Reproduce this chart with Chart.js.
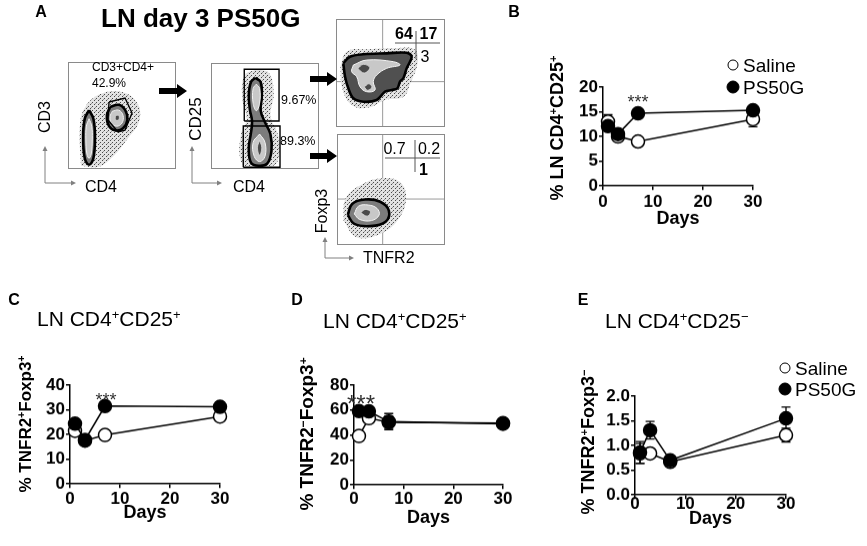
<!DOCTYPE html>
<html>
<head>
<meta charset="utf-8">
<title>LN day 3 PS50G</title>
<script src="https://cdn.jsdelivr.net/npm/chart.js@4.4.1/dist/chart.umd.min.js"></script>
<style>
  body { margin: 0; background: #fff; }
  #fig { position: relative; width: 867px; height: 546px; overflow: hidden; background: #fff; }
  canvas { position: absolute; }
  svg { position: absolute; left: 0; top: 0; }
  .t { position: absolute; white-space: nowrap; line-height: 1; color: #000;
       font-family: "Liberation Sans", Arial, sans-serif; }
  .c { transform: translate(-50%, -50%); }
  .l { transform: translateY(-50%); }
  .r { transform: translate(-50%, -50%) rotate(-90deg); }
  .b { font-weight: bold; }
  .sup { font-size: 0.62em; position: relative; top: -0.55em; }
  .dot { position: absolute; border-radius: 50%; box-sizing: border-box; border: 1.5px solid #000; transform: translate(-50%, -50%); }
</style>
</head>
<body>
<div id="fig">
  <!-- panel A: flow plots -->
  <canvas id="flowCd3"></canvas>
  <canvas id="flowCd25"></canvas>
  <canvas id="flowHi"></canvas>
  <canvas id="flowLo"></canvas>
  <!-- panels B-E: time courses -->
  <canvas id="chartB"></canvas>
  <canvas id="chartC"></canvas>
  <canvas id="chartD"></canvas>
  <canvas id="chartE"></canvas>

  <svg width="867" height="546">
    <!-- gating arrows -->
    <g fill="#000">
      <polygon points="159,88 177,88 177,84 187,91 177,98 177,94 159,94"/>
      <polygon points="310,76 327,76 327,72 337,79 327,86 327,82 310,82"/>
      <polygon points="310,153 327,153 327,149 337,156 327,163 327,159 310,159"/>
    </g>
    <!-- axis direction arrows -->
    <g stroke="#808080" stroke-width="1" fill="none">
      <polyline points="45,150 45,183 72,183"/>
      <polyline points="192,150 192,183 218,183"/>
      <polyline points="325,241 325,258 350,258"/>
    </g>
    <g fill="#808080">
      <polygon points="45,146 42.5,151 47.5,151"/>
      <polygon points="76,183 71,180.5 71,185.5"/>
      <polygon points="192,146 189.5,151 194.5,151"/>
      <polygon points="222,183 217,180.5 217,185.5"/>
      <polygon points="325,237 322.5,242 327.5,242"/>
      <polygon points="354,258 349,255.5 349,260.5"/>
    </g>
    <!-- quadrant number dividers -->
    <g stroke="#555" stroke-width="1">
      <line x1="395" y1="43" x2="440" y2="43"/>
      <line x1="416" y1="31" x2="416" y2="59"/>
      <line x1="385" y1="158" x2="440" y2="158"/>
      <line x1="415" y1="140" x2="415" y2="172"/>
    </g>
  </svg>

  <!-- panel A texts -->
  <div class="t c b" style="left:41px;top:12px;font-size:16px">A</div>
  <div class="t l b" style="left:101px;top:18px;font-size:26px">LN day 3 PS50G</div>
  <div class="t l" style="left:92px;top:67px;font-size:12px">CD3+CD4+</div>
  <div class="t l" style="left:92px;top:83px;font-size:12px">42.9%</div>
  <div class="t l" style="left:281px;top:100px;font-size:12.5px">9.67%</div>
  <div class="t l" style="left:280px;top:141px;font-size:12.5px">89.3%</div>
  <div class="t r" style="left:45px;top:117px;font-size:16px">CD3</div>
  <div class="t l" style="left:85px;top:187px;font-size:16px">CD4</div>
  <div class="t r" style="left:195px;top:119px;font-size:17px">CD25</div>
  <div class="t l" style="left:233px;top:187px;font-size:16px">CD4</div>
  <div class="t r" style="left:322px;top:211px;font-size:16px">Foxp3</div>
  <div class="t l" style="left:363px;top:258px;font-size:16px">TNFR2</div>
  <div class="t c b" style="left:404px;top:34px;font-size:16px">64</div>
  <div class="t c b" style="left:428.5px;top:34px;font-size:16px">17</div>
  <div class="t c" style="left:425px;top:57px;font-size:16px">3</div>
  <div class="t c" style="left:394.5px;top:149px;font-size:16px">0.7</div>
  <div class="t c" style="left:429px;top:149px;font-size:16px">0.2</div>
  <div class="t c b" style="left:423.5px;top:170px;font-size:16px">1</div>

  <!-- panel B texts -->
  <div class="t c b" style="left:514px;top:12px;font-size:16px">B</div>
  <div class="t r b" style="left:557px;top:128px;font-size:18px">% LN CD4<span class="sup">+</span>CD25<span class="sup">+</span></div>
  <div class="dot" style="left:733px;top:65px;width:11px;height:11px;background:#fff"></div>
  <div class="t l" style="left:743px;top:65px;font-size:19px">Saline</div>
  <div class="dot" style="left:733px;top:87px;width:13px;height:13px;background:#000"></div>
  <div class="t l" style="left:743px;top:87px;font-size:19px">PS50G</div>
  <div class="t c" style="left:638px;top:102px;font-size:18px;color:#333">***</div>

  <!-- panel C texts -->
  <div class="t c b" style="left:14px;top:300px;font-size:16px">C</div>
  <div class="t l" style="left:37px;top:318px;font-size:21px">LN CD4<span class="sup">+</span>CD25<span class="sup">+</span></div>
  <div class="t r b" style="left:25px;top:424px;font-size:17px">% TNFR2<span class="sup">+</span>Foxp3<span class="sup">+</span></div>
  <div class="t c" style="left:106px;top:400px;font-size:18px;color:#333">***</div>

  <!-- panel D texts -->
  <div class="t c b" style="left:297px;top:300px;font-size:16px">D</div>
  <div class="t l" style="left:323px;top:320px;font-size:21px">LN CD4<span class="sup">+</span>CD25<span class="sup">+</span></div>
  <div class="t r b" style="left:306px;top:434px;font-size:19px">% TNFR2<span class="sup">&minus;</span>Foxp3<span class="sup">+</span></div>
  <div class="t c" style="left:361px;top:404px;font-size:24px;color:#333">***</div>

  <!-- panel E texts -->
  <div class="t c b" style="left:583px;top:300px;font-size:16px">E</div>
  <div class="t l" style="left:605px;top:320px;font-size:21px">LN CD4<span class="sup">+</span>CD25<span class="sup">&minus;</span></div>
  <div class="t r b" style="left:588px;top:442px;font-size:18px">% TNFR2<span class="sup">+</span>Foxp3<span class="sup">&minus;</span></div>
  <div class="dot" style="left:785px;top:368px;width:11px;height:11px;background:#fff"></div>
  <div class="t l" style="left:795px;top:368px;font-size:19px">Saline</div>
  <div class="dot" style="left:785px;top:389px;width:13px;height:13px;background:#000"></div>
  <div class="t l" style="left:795px;top:389px;font-size:19px">PS50G</div>
</div>

<script>
const FONT = '"Liberation Sans", Arial, sans-serif';

// ---- time course data (days after injection) ----
const days = [1, 3, 7, 30];

// B: % CD4+CD25+ in lymph node
const salineCd25 = [13.0, 10.0, 9.0, 13.5];
const salineCd25Err = [1.4, 0.4, 0.3, 1.5];
const ps50gCd25 = [12.1, 10.5, 14.7, 15.3];
const ps50gCd25Err = [0.5, 0.5, 0.4, 0.5];

// C: % TNFR2+Foxp3+ of CD4+CD25+
const salineTnfr2Pos = [21.5, 17.5, 19.8, 27.3];
const salineTnfr2PosErr = [1, 1, 1, 1];
const ps50gTnfr2Pos = [24.4, 17.8, 31.5, 31.2];
const ps50gTnfr2PosErr = [1, 1, 1, 1];

// D: % TNFR2-Foxp3+ of CD4+CD25+
const salineTnfr2Neg = [39.2, 53.5, 50.2, 49.5];
const salineTnfr2NegErr = [2, 2, 5, 1.5];
const ps50gTnfr2Neg = [59.2, 59.0, 50.7, 49.0];
const ps50gTnfr2NegErr = [2, 2, 6.5, 2];

// E: % TNFR2+Foxp3- of CD4+CD25-
const salineFoxp3Neg = [0.84, 0.84, 0.67, 1.21];
const salineFoxp3NegErr = [0.2, 0.05, 0.03, 0.14];
const ps50gFoxp3Neg = [0.86, 1.31, 0.70, 1.55];
const ps50gFoxp3NegErr = [0.22, 0.18, 0.04, 0.23];

// tick values
const dayTicks = [0, 10, 20, 30];
const cd25Ticks = [0, 5, 10, 15, 20];
const tnfr2PosTicks = [0, 10, 20, 30, 40];
const tnfr2NegTicks = [0, 20, 40, 60, 80];
const foxp3NegTicks = [0, 0.5, 1.0, 1.5, 2.0];

// ---- flow plots (0-100 plot units), contours ----
// CD3 vs CD4
const cd3Cloud = [[12,3],[11,40],[16,58],[30,70],[50,72],[64,62],[66,45],[55,28],[42,12],[28,2],[12,3]];
const cd3NegOuter = [[19.5,55],[23.5,47],[25,30],[23.5,10],[19.5,4],[15.5,10],[14,30],[15.5,47],[19.5,55]];
const cd3NegInner = [[19.5,47],[22,40],[22.5,28],[21.5,14],[19.5,10],[17.5,14],[16.5,28],[17,40],[19.5,47]];
const cd3PosOuter = [[39,58],[47,60],[53,55],[55,46],[51,38],[44,36],[38,40],[36,50],[39,58]];
const cd3PosInner = [[41,54],[47,55],[51,50],[50,43],[45,40],[40,43],[39,49],[41,54]];
const cd3PosCore = [[44,50],[47,50],[47,46],[44,46],[44,50]];
const cd3Gate = [[38,62.6],[52.8,66.4],[59.3,52.3],[52.8,36.4],[46.3,34.6],[37,45.8],[38,62.6]];

// CD25 vs CD4 (gated CD3+CD4+)
const cd25Cloud = [[42,94],[54,90],[58,70],[55,50],[62,32],[62,8],[52,1],[34,1],[27,10],[28,34],[33,47],[29,66],[31,88],[42,94]];
const cd25Outer = [[41,86],[46,82],[47,68],[46,55],[50,44],[55,33],[56,17],[52,5],[44,3],[37,6],[35,20],[37,34],[38,45],[36,56],[35,70],[37,82],[41,86]];
const cd25UpperInner = [[42,80],[45,76],[45,62],[42,55],[39,62],[39,76],[42,80]];
const cd25LowerInner = [[45,33],[50,25],[50,12],[45,7],[40,12],[39,25],[45,33]];
const cd25LowerCore = [[45,27],[47,20],[45,13],[43,20],[45,27]];
const cd25HighGate = [[30.8,45.3],[63,45.3],[63,94.1],[30.8,94.1],[30.8,45.3]];
const cd25LowGate = [[29.9,1.6],[63.9,1.6],[63.9,40.6],[29.9,40.6],[29.9,1.6]];

// Foxp3 vs TNFR2 (CD25 high)
const hiCloud = [[4,56],[10,70],[30,72],[55,73],[72,72],[75,60],[68,40],[62,28],[45,25],[30,18],[15,20],[6,35],[4,56]];
const hiOuter = [[6.7,59],[12.8,65.1],[25.1,67.3],[46.5,68.2],[64.8,68.8],[69.4,65.1],[64.8,54.3],[61.8,45.1],[58.7,42],[56.3,35.8],[51.1,34.3],[45,32.7],[37.3,25],[25.1,23.4],[15.9,26.6],[11.3,35.8],[8.3,46.6],[6.7,59]];
const hiMid = [[15.9,57.4],[28.1,62],[52.6,60.5],[58.7,57.4],[46.5,54.3],[37.3,48.1],[34.2,42],[35.8,34.3],[28.1,32.7],[22,37.3],[19,46.6],[14.4,51.2],[15.9,57.4]];
const hiCoreA = [[20,54],[25,58],[31,55],[26,50],[20,54]];
const hiCoreB = [[26,37],[30,40],[33,37],[29,34],[26,37]];
const hiQuad = [42.8, 42];

// Foxp3 vs TNFR2 (CD25 low)
const loCloud = [[6,22],[8,42],[22,54],[40,60],[58,57],[64,42],[56,22],[40,10],[18,7],[6,22]];
const loOuter = [[10,27],[14,37],[26,41],[40,39],[48,31],[45,21],[31,17],[16,19],[10,27]];
const loMid = [[16,28],[20,35],[29,36],[37,33],[39,27],[32,22],[21,23],[16,28]];
const loCore = [[22,29],[26,32],[31,30],[28,26],[22,29]];
const loQuad = [42.3, 41.4];

Chart.defaults.font.family = FONT;

function pts(xs, ys) { return xs.map((x, i) => ({ x: x, y: ys[i] })); }
function poly(arr) { return arr.map(p => ({ x: p[0], y: p[1] })); }

// draw SEM bars under the markers, using the chart's own y scale
const errorBars = {
  id: 'errorBars',
  beforeDatasetsDraw(chart) {
    const ctx = chart.ctx;
    const y = chart.scales.y;
    ctx.save();
    ctx.strokeStyle = '#000';
    ctx.lineWidth = 1.3;
    chart.data.datasets.forEach((ds, i) => {
      if (!ds.errors) return;
      chart.getDatasetMeta(i).data.forEach((pt, j) => {
        const v = ds.data[j].y, e = ds.errors[j];
        const top = y.getPixelForValue(v + e), bot = y.getPixelForValue(v - e);
        ctx.beginPath();
        ctx.moveTo(pt.x, top); ctx.lineTo(pt.x, bot);
        ctx.moveTo(pt.x - 4.5, top); ctx.lineTo(pt.x + 4.5, top);
        ctx.moveTo(pt.x - 4.5, bot); ctx.lineTo(pt.x + 4.5, bot);
        ctx.stroke();
      });
    });
    ctx.restore();
  }
};

// thin grey box round a flow plot
const framePlugin = {
  id: 'frame',
  afterDraw(chart) {
    const a = chart.chartArea, ctx = chart.ctx;
    ctx.save();
    ctx.strokeStyle = '#8a8a8a';
    ctx.lineWidth = 1;
    ctx.strokeRect(a.left + 0.5, a.top + 0.5, a.right - a.left - 1, a.bottom - a.top - 1);
    ctx.restore();
  }
};

function placeCanvas(canvas, left, top, w, h) {
  canvas.style.left = left + 'px';
  canvas.style.top = top + 'px';
  canvas.width = w;
  canvas.height = h;
  canvas.style.width = w + 'px';
  canvas.style.height = h + 'px';
}

// line chart of one time course; box is the plot area in page pixels
function makeTimeChart(id, box, yTicks, decimals, saline, salineErr, ps50g, ps50gErr, xPad, daysGap) {
  const yw = 42, padTop = 12, padRight = 16, padBottom = 4;
  const xh = daysGap + 10.8;
  const canvas = document.getElementById(id);
  const w = yw + box.right - box.left + padRight;
  const h = padTop + box.bottom - box.top + xh + padBottom;
  placeCanvas(canvas, box.left - yw, box.top - padTop, w, h);

  const tickFont = { family: FONT, size: 17, weight: 'bold' };
  const axisGrid = { drawOnChartArea: false, color: '#000', lineWidth: 1.5, tickLength: 4 };
  const axisBorder = { color: '#000', width: 1.5 };

  return new Chart(canvas, {
    type: 'line',
    data: {
      datasets: [
        { label: 'PS50G', data: pts(days, ps50g), errors: ps50gErr, order: 1, clip: false,
          borderColor: '#000', pointBorderColor: '#000', pointBackgroundColor: '#000' },
        { label: 'Saline', data: pts(days, saline), errors: salineErr, order: 2, clip: false,
          borderColor: '#000', pointBorderColor: '#000', pointBackgroundColor: '#fff' }
      ]
    },
    options: {
      responsive: false,
      animation: false,
      events: [],
      layout: { autoPadding: false, padding: { top: padTop, right: padRight, left: 0, bottom: padBottom } },
      elements: {
        line: { borderWidth: 1.5, tension: 0 },
        point: { radius: 6.5, borderWidth: 1.5, hoverRadius: 6.5 }
      },
      plugins: { legend: { display: false }, tooltip: { enabled: false } },
      scales: {
        x: {
          type: 'linear', min: dayTicks[0], max: dayTicks[dayTicks.length - 1],
          afterBuildTicks: s => { s.ticks = dayTicks.map(v => ({ value: v })); },
          afterFit: s => { s.height = xh; },
          grid: axisGrid, border: axisBorder,
          ticks: { font: tickFont, color: '#000', padding: xPad, maxRotation: 0, autoSkip: false },
          title: { display: true, text: 'Days', color: '#000', padding: 0,
                   font: { family: FONT, size: 18, weight: 'bold', lineHeight: 1.2 } }
        },
        y: {
          type: 'linear', min: yTicks[0], max: yTicks[yTicks.length - 1],
          afterBuildTicks: s => { s.ticks = yTicks.map(v => ({ value: v })); },
          afterFit: s => { s.width = yw; },
          grid: axisGrid, border: axisBorder,
          ticks: { font: tickFont, color: '#000', padding: 1, autoSkip: false,
                   callback: v => Number(v).toFixed(decimals) }
        }
      }
    },
    plugins: [errorBars]
  });
}

// stippled grey for the scattered events around each population
function stipple() {
  const c = document.createElement('canvas');
  c.width = 4; c.height = 4;
  const g = c.getContext('2d');
  g.fillStyle = '#e2e2e2'; g.fillRect(0, 0, 4, 4);
  g.fillStyle = '#4a4a4a'; g.fillRect(0, 0, 1, 1); g.fillRect(2, 2, 1, 1);
  g.fillStyle = '#999'; g.fillRect(3, 1, 1, 1);
  return g.createPattern(c, 'repeat');
}

const STYLES = {
  cloud: { fill: null, border: 'rgba(0,0,0,0)', width: 0, tension: 0.4 },
  outer: { fill: '#7c7c7c', border: '#000', width: 2.6, tension: 0.4 },
  dark: { fill: '#505050', border: '#000', width: 2.6, tension: 0.35 },
  mid: { fill: '#c8c8c8', border: '#f4f4f4', width: 1, tension: 0.4 },
  core: { fill: '#4a4a4a', border: '#dcdcdc', width: 0.8, tension: 0.4 },
  gate: { fill: false, border: '#000', width: 1.4, tension: 0 },
  quad: { fill: false, border: '#9a9a9a', width: 1, tension: 0 }
};

// one flow plot: layers are [points, style] drawn bottom to top
function makeFlowChart(id, box, layers) {
  const canvas = document.getElementById(id);
  placeCanvas(canvas, box.left, box.top, box.right - box.left, box.bottom - box.top);
  const pattern = stipple();
  const n = layers.length;
  const datasets = layers.map(([p, styleName], i) => {
    const st = STYLES[styleName];
    const bg = styleName === 'cloud' ? pattern : (st.fill || 'rgba(0,0,0,0)');
    return {
      data: poly(p), showLine: true,
      fill: st.fill === false ? false : 'shape',
      backgroundColor: bg, borderColor: st.border, borderWidth: st.width,
      pointRadius: 0, tension: st.tension, order: n - i
    };
  });
  return new Chart(canvas, {
    type: 'scatter',
    data: { datasets: datasets },
    options: {
      responsive: false,
      animation: false,
      events: [],
      layout: { autoPadding: false, padding: 0 },
      plugins: { legend: { display: false }, tooltip: { enabled: false } },
      scales: {
        x: { type: 'linear', min: 0, max: 100, display: false },
        y: { type: 'linear', min: 0, max: 100, display: false }
      }
    },
    plugins: [framePlugin]
  });
}

function quadLines(q) {
  return [[[q[0], 0], [q[0], 100]], [[0, q[1]], [100, q[1]]]];
}

window.onload = function () {
  // panel A
  makeFlowChart('flowCd3', { left: 68, top: 62, right: 176, bottom: 169 }, [
    [cd3Cloud, 'cloud'], [cd3NegOuter, 'outer'], [cd3NegInner, 'mid'],
    [cd3PosOuter, 'outer'], [cd3PosInner, 'mid'], [cd3PosCore, 'core'], [cd3Gate, 'gate']
  ]);
  makeFlowChart('flowCd25', { left: 211, top: 63, right: 319, bottom: 169 }, [
    [cd25Cloud, 'cloud'], [cd25Outer, 'outer'], [cd25UpperInner, 'mid'],
    [cd25LowerInner, 'mid'], [cd25LowerCore, 'core'], [cd25HighGate, 'gate'], [cd25LowGate, 'gate']
  ]);
  const hiQ = quadLines(hiQuad), loQ = quadLines(loQuad);
  makeFlowChart('flowHi', { left: 336, top: 19, right: 445, bottom: 127 }, [
    [hiQ[0], 'quad'], [hiQ[1], 'quad'],
    [hiCloud, 'cloud'], [hiOuter, 'dark'], [hiMid, 'mid'], [hiCoreA, 'core'], [hiCoreB, 'core']
  ]);
  makeFlowChart('flowLo', { left: 337, top: 134, right: 445, bottom: 245 }, [
    [loQ[0], 'quad'], [loQ[1], 'quad'],
    [loCloud, 'cloud'], [loOuter, 'outer'], [loMid, 'mid'], [loCore, 'core']
  ]);

  // panels B-E
  makeTimeChart('chartB', { left: 603, right: 753, top: 87, bottom: 186 }, cd25Ticks, 0,
    salineCd25, salineCd25Err, ps50gCd25, ps50gCd25Err, 2, 33);
  makeTimeChart('chartC', { left: 70, right: 220, top: 385, bottom: 484 }, tnfr2PosTicks, 0,
    salineTnfr2Pos, salineTnfr2PosErr, ps50gTnfr2Pos, ps50gTnfr2PosErr, 1, 29);
  makeTimeChart('chartD', { left: 354, right: 503, top: 385, bottom: 485 }, tnfr2NegTicks, 0,
    salineTnfr2Neg, salineTnfr2NegErr, ps50gTnfr2Neg, ps50gTnfr2NegErr, 0, 33);
  makeTimeChart('chartE', { left: 635, right: 786, top: 396, bottom: 495 }, foxp3NegTicks, 1,
    salineFoxp3Neg, salineFoxp3NegErr, ps50gFoxp3Neg, ps50gFoxp3NegErr, -5, 24);
};
</script>
</body>
</html>
